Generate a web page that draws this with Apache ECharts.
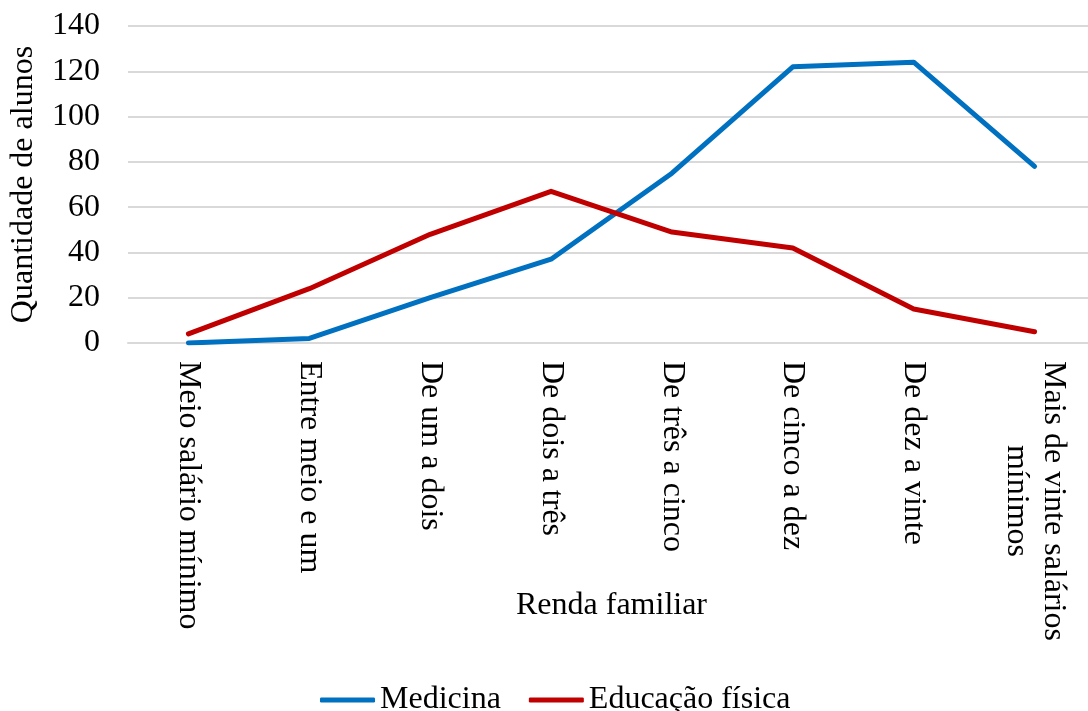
<!DOCTYPE html>
<html>
<head>
<meta charset="utf-8">
<script src="https://cdn.jsdelivr.net/npm/echarts@6/dist/echarts.min.js"></script>
<style>
  html, body { margin: 0; padding: 0; background: #ffffff; }
  #chart { width: 1088px; height: 711px; }
</style>
</head>
<body>
<div id="chart"></div>
<script>
// Renda familiar (income brackets)
const categories = [
  'Meio salário mínimo',
  'Entre meio e um',
  'De um a dois',
  'De dois a três',
  'De três a cinco',
  'De cinco a dez',
  'De dez a vinte',
  'Mais de vinte salários\nmínimos'
];
// Quantidade de alunos per bracket
const medicina = [0, 2, 20, 37, 75, 122, 124, 78];
const educacaoFisica = [4, 24, 48, 67, 49, 42, 15, 5];
const yTicks = [0, 20, 40, 60, 80, 100, 120, 140];

const FONT = '"Liberation Serif", "Times New Roman", serif';
const FS = 32;
const GRID = '#d9d9d9';

const chart = echarts.init(document.getElementById('chart'), null, { renderer: 'canvas' });

chart.setOption({
  animation: false,
  backgroundColor: '#ffffff',
  textStyle: { fontFamily: FONT, color: '#000000' },
  // plot area runs slightly past the right edge of the canvas
  grid: { left: 128, width: 967, top: 26, height: 317, containLabel: false, outerBoundsMode: 'none' },
  legend: {
    left: 315,
    top: 679,
    icon: 'roundRect',
    itemWidth: 55,
    itemHeight: 5,
    itemGap: 28,
    textStyle: { fontFamily: FONT, fontSize: FS, color: '#000000' },
    data: ['Medicina', 'Educação física']
  },
  xAxis: {
    type: 'category',
    data: categories,
    boundaryGap: true,
    name: 'Renda familiar',
    nameLocation: 'middle',
    nameGap: 247,
    nameMoveOverlap: false,
    nameTextStyle: { fontFamily: FONT, fontSize: FS, color: '#000000' },
    axisLine: { show: true, lineStyle: { color: GRID, width: 2 } },
    axisTick: { show: false },
    axisLabel: {
      interval: 0,
      rotate: -90,
      margin: 18,
      fontFamily: FONT,
      fontSize: FS,
      color: '#000000',
      lineHeight: 37,
      formatter: function (v) {
        const parts = v.split('\n');
        if (parts.length === 1) return v;
        return parts[0] + '\n' + parts.slice(1).map(p => '{c|' + p + '}').join('\n');
      },
      rich: {
        c: { align: 'center', fontFamily: FONT, fontSize: FS, color: '#000000', lineHeight: 37 }
      }
    },
    splitLine: { show: false }
  },
  yAxis: {
    type: 'value',
    min: yTicks[0],
    max: yTicks[yTicks.length - 1],
    interval: 20,
    name: 'Quantidade de alunos',
    nameLocation: 'middle',
    nameGap: 88,
    nameMoveOverlap: false,
    nameTextStyle: { fontFamily: FONT, fontSize: FS, color: '#000000' },
    axisLine: { show: false },
    axisTick: { show: false },
    axisLabel: { margin: 28, fontFamily: FONT, fontSize: FS, color: '#000000' },
    splitLine: { show: true, lineStyle: { color: GRID, width: 2 } }
  },
  series: [
    {
      name: 'Medicina',
      type: 'line',
      data: medicina,
      symbol: 'none',
      color: '#0070C0',
      lineStyle: { color: '#0070C0', width: 5, cap: 'round', join: 'round' }
    },
    {
      name: 'Educação física',
      type: 'line',
      data: educacaoFisica,
      symbol: 'none',
      color: '#C00000',
      lineStyle: { color: '#C00000', width: 5, cap: 'round', join: 'round' }
    }
  ]
});
</script>
</body>
</html>
